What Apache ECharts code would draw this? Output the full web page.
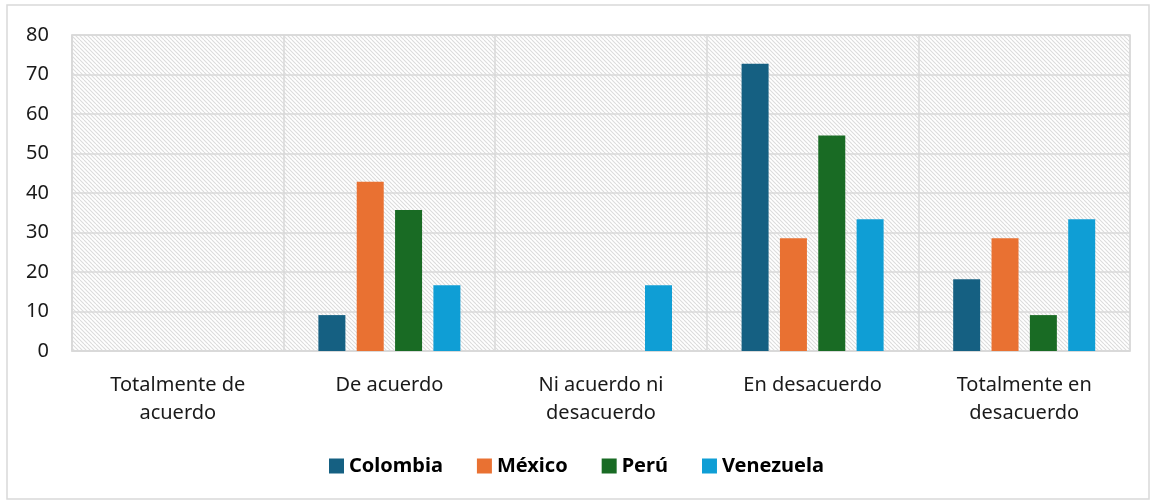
<!DOCTYPE html>
<html>
<head>
<meta charset="utf-8">
<script src="https://cdn.jsdelivr.net/npm/echarts@6/dist/echarts.min.js"></script>
<style>
  html, body { margin: 0; padding: 0; background: #fff; }
  #chart { width: 1153px; height: 501px; }
</style>
</head>
<body>
<div id="chart"></div>
<script>
const categories = ['Totalmente de\nacuerdo', 'De acuerdo', 'Ni acuerdo ni\ndesacuerdo', 'En desacuerdo', 'Totalmente en\ndesacuerdo'];
const colombia = [0, 9.09, 0, 72.73, 18.18];
const mexico = [0, 42.86, 0, 28.57, 28.57];
const peru = [0, 35.71, 0, 54.55, 9.09];
const venezuela = [0, 16.67, 16.67, 33.33, 33.33];
const yTicks = [0, 10, 20, 30, 40, 50, 60, 70, 80];

// hatch pattern for the plot background
function makeHatch() {
  let c = document.createElement('canvas');
  c.width = 8; c.height = 8;
  let ctx = c.getContext('2d');
  ctx.fillStyle = '#ffffff';
  ctx.fillRect(0, 0, 8, 8);
  ctx.strokeStyle = '#dcdcdc';
  ctx.lineWidth = 1.1;
  ctx.beginPath();
  for (let k = -8; k <= 16; k += 4) {
    ctx.moveTo(k, 0);
    ctx.lineTo(k + 8, 8);
  }
  ctx.stroke();
  return c;
}

let myChart = echarts.init(document.getElementById('chart'));
const font = '"Noto Sans", sans-serif';
function bar(name, data, color) {
  return {
    name: name,
    type: 'bar',
    data: data,
    barWidth: 27,
    barGap: '42%',
    itemStyle: { color: color }
  };
}
let option = {
  animation: false,
  textStyle: { fontFamily: font },
  graphic: [{
    type: 'rect',
    shape: { x: 7, y: 5, width: 1142, height: 494 },
    style: { fill: 'none', stroke: '#d9d9d9', lineWidth: 1.5 },
    silent: true
  }],
  grid: {
    left: 72, right: 23, top: 35, bottom: 150,
    show: true,
    backgroundColor: { image: makeHatch(), repeat: 'repeat' },
    borderColor: '#d9d9d9',
    borderWidth: 1.5
  },
  legend: {
    bottom: 20,
    left: 'center',
    itemWidth: 15,
    itemHeight: 15,
    itemGap: 34,
    icon: 'rect',
    textStyle: { fontFamily: font, fontSize: 20, fontWeight: 'bold', color: '#000' },
    data: ['Colombia', 'México', 'Perú', 'Venezuela']
  },
  xAxis: {
    type: 'category',
    data: categories,
    axisLine: { lineStyle: { color: '#d9d9d9', width: 1.5 } },
    axisTick: { show: false },
    splitLine: { show: true, lineStyle: { color: '#d9d9d9', width: 1.5 } },
    axisLabel: { fontFamily: font, fontSize: 20, color: '#1a1a1a', margin: 20, lineHeight: 28 }
  },
  yAxis: {
    type: 'value',
    min: yTicks[0],
    max: yTicks[yTicks.length - 1],
    interval: 10,
    axisLine: { show: true, lineStyle: { color: '#d9d9d9', width: 1.5 } },
    axisTick: { show: false },
    splitLine: { lineStyle: { color: '#d9d9d9', width: 1.5 } },
    axisLabel: { fontFamily: font, fontSize: 20, color: '#1a1a1a', margin: 23 }
  },
  series: [
    bar('Colombia', colombia, '#156082'),
    bar('México', mexico, '#E97132'),
    bar('Perú', peru, '#196B24'),
    bar('Venezuela', venezuela, '#0F9ED5')
  ]
};
myChart.setOption(option);
</script>
</body>
</html>
